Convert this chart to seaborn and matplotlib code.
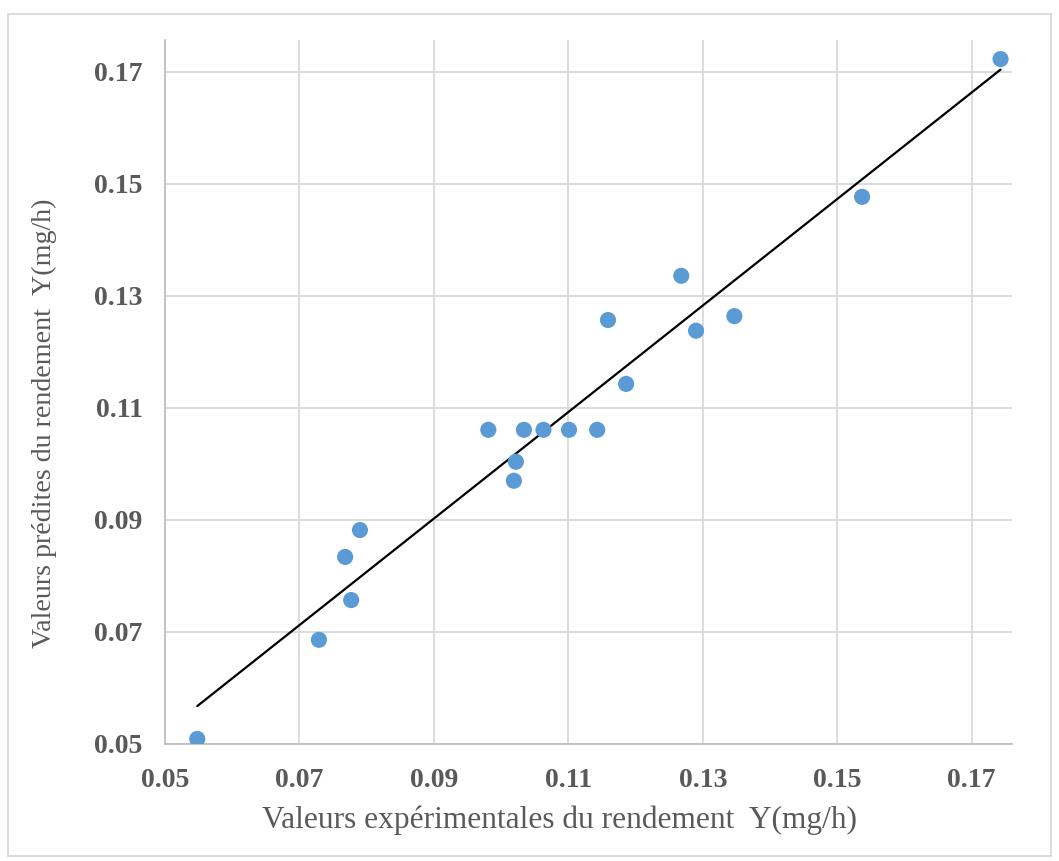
import matplotlib
matplotlib.use("Agg")
import matplotlib.pyplot as plt
import seaborn as sns
import numpy as np
import pandas as pd
from matplotlib.patches import Rectangle

# experimental vs predicted yield Y (mg/h)
experimental = [0.0548, 0.0729, 0.0768, 0.0777, 0.0790, 0.0981, 0.1019, 0.1022,
                0.1034, 0.1063, 0.1101, 0.1143, 0.1159, 0.1186, 0.1268, 0.1290,
                0.1347, 0.1537, 0.1743]
predicted = [0.0509, 0.0686, 0.0834, 0.0757, 0.0882, 0.1061, 0.0970, 0.1004,
             0.1061, 0.1061, 0.1061, 0.1061, 0.1257, 0.1143, 0.1336, 0.1238,
             0.1264, 0.1477, 0.1723]
ticks = [0.05, 0.07, 0.09, 0.11, 0.13, 0.15, 0.17]

df = pd.DataFrame({'exp': experimental, 'pred': predicted})

sns.set_style("whitegrid")
plt.rcParams['font.family'] = ['Liberation Serif', 'DejaVu Serif']

fig = plt.figure(figsize=(10.59, 8.61), dpi=100)
ax = fig.add_axes([0.1558, 0.1359, 0.7998, 0.8176])

sns.regplot(data=df, x='exp', y='pred', ci=None, ax=ax,
            scatter_kws={'s': 135, 'color': '#5B9BD5', 'edgecolor': 'none', 'alpha': 1, 'zorder': 3},
            line_kws={'color': 'black', 'lw': 1.6, 'zorder': 2})

ax.set_xlim(0.05, 0.176)
ax.set_ylim(0.05, 0.1757)
ax.set_xticks(ticks)
ax.set_yticks(ticks)
ax.set_xticklabels([f"{t:.2f}" for t in ticks])
ax.set_yticklabels([f"{t:.2f}" for t in ticks])
ax.grid(True, color='#D9D9D9', lw=1.3)
ax.tick_params(axis='both', labelsize=20, colors='#595959', length=0)
ax.tick_params(axis='x', pad=17)
ax.tick_params(axis='y', pad=16)
for lab in ax.get_xticklabels() + ax.get_yticklabels():
    lab.set_fontweight('bold')

for side in ['top', 'right']:
    ax.spines[side].set_visible(False)
for side in ['left', 'bottom']:
    ax.spines[side].set_color('#BFBFBF')
    ax.spines[side].set_linewidth(1.3)

ax.set_xlabel('Valeurs expérimentales du rendement  Y(mg/h)', fontsize=22.6, color='#595959', va='center')
ax.set_ylabel('Valeurs prédites du rendement  Y(mg/h)', fontsize=20.2, color='#595959', va='center')
ax.xaxis.set_label_coords(0.466, -0.108)
ax.yaxis.set_label_coords(-0.142, 0.455)

fig.patches.append(Rectangle((0.008, 0.006), 0.984, 0.978, transform=fig.transFigure,
                             fill=False, edgecolor='#D9D9D9', lw=1.3))

fig.savefig('out.png', dpi=100)
